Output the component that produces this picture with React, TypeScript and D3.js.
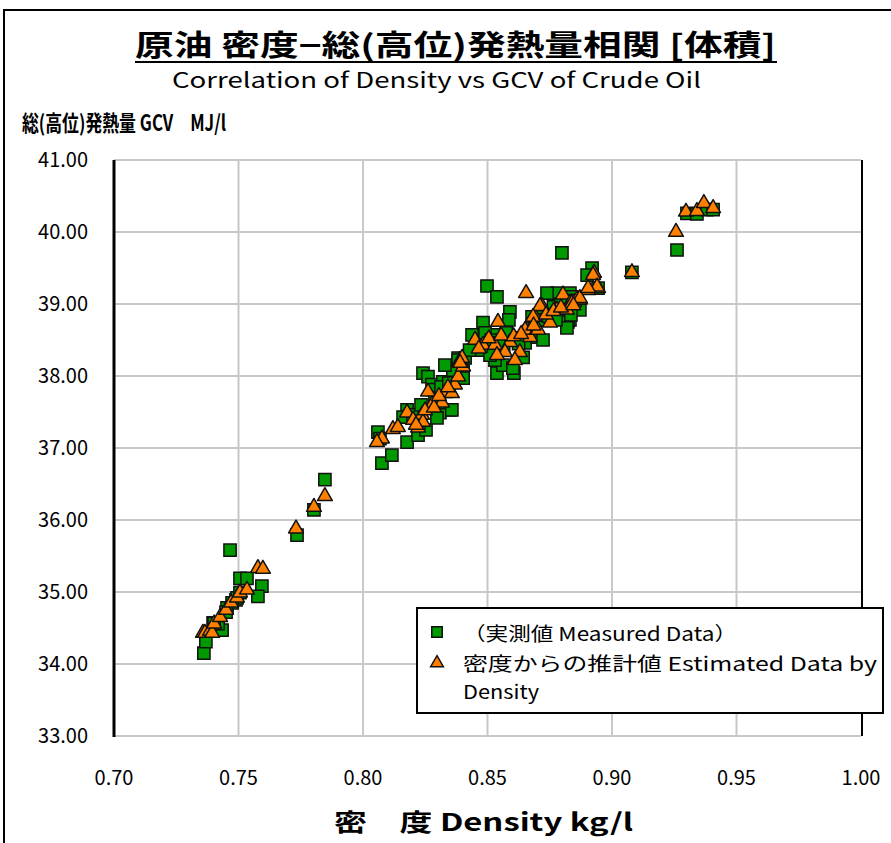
import React, { useRef, useEffect } from "react";
import * as d3 from "d3";

// Measured data (density kg/l, GCV MJ/l)
const measuredDensity = [
  0.7361, 0.7369, 0.7398, 0.7434, 0.7418, 0.7454, 0.7466, 0.749, 0.7494, 0.7506, 0.7534, 0.7506, 0.7594, 0.7578,
  0.7474, 0.745, 0.7402,
  0.7735, 0.7803, 0.7847,
  0.806, 0.8068, 0.8076, 0.8116, 0.8177, 0.8221, 0.8177, 0.8161,
  0.8241, 0.8261, 0.8277, 0.8281, 0.8349, 0.8309, 0.8297, 0.8357,
  0.8321, 0.8361, 0.8402, 0.8402, 0.8382, 0.841,
  0.8538, 0.8606, 0.8562, 0.8329, 0.8382, 0.853, 0.8602, 0.8643, 0.8618, 0.8651, 0.8699, 0.8679, 0.8691,
  0.8498, 0.8538, 0.859, 0.8586, 0.8482, 0.8438, 0.853, 0.8558,
  0.8799, 0.892, 0.89, 0.8944, 0.8779, 0.8739, 0.8831, 0.8839, 0.8871, 0.8831, 0.8723, 0.8823, 0.8819, 0.8723,
  0.8462, 0.851, 0.8565, 0.849,
  0.8201, 0.8233, 0.8289, 0.8313, 0.8345, 0.8305, 0.8253, 0.8225, 0.8475, 0.8515, 0.8545, 0.8575,
  0.8625, 0.8665, 0.8705, 0.8745, 0.8765, 0.8795, 0.8852, 0.8428, 0.8835, 0.8775,
  0.908, 0.9261, 0.9301, 0.9341, 0.9382, 0.9406,
];
const measuredGcv = [
  34.15, 34.31, 34.57, 34.47, 34.56, 34.78, 35.58, 34.89, 34.92, 35.19, 35.19, 34.99, 35.08, 34.94,
  34.85, 34.72, 34.56,
  35.79, 36.14, 36.56,
  37.22, 37.13, 36.79, 36.9, 37.08, 37.18, 37.53, 37.43,
  38.04, 37.99, 37.88, 37.81, 37.53, 37.49, 37.42, 37.53,
  37.92, 38.08, 38.11, 37.97, 38.25, 38.25,
  38.04, 38.04, 38.15, 38.15, 38.22, 38.22, 38.11, 38.26, 38.53, 38.46, 38.54, 38.82, 38.74,
  39.25, 39.1, 38.89, 38.78, 38.74, 38.57, 38.57, 38.43,
  39.71, 39.5, 39.4, 39.22, 39.15, 39.15, 39.15, 39.1, 38.92, 38.78, 38.88, 38.75, 38.67, 38.5,
  38.36, 38.29, 38.36, 38.6,
  37.46, 37.6, 37.7, 37.85, 37.9, 37.63, 37.25, 37.35, 38.42, 38.5, 38.46, 38.6,
  38.45, 38.62, 38.78, 38.83, 38.96, 39.0, 39.05, 38.36, 38.85, 38.78,
  39.44, 39.75, 40.26, 40.25, 40.31, 40.31,
];

// Estimated data by density
const estimatedDensity = [
  0.7357, 0.7365, 0.7386, 0.7394, 0.7402, 0.7426, 0.745, 0.747, 0.7494, 0.7506, 0.7534, 0.7578, 0.7598,
  0.7731, 0.7803, 0.7847,
  0.8076, 0.8056, 0.812, 0.814, 0.8177, 0.8201, 0.8221, 0.8237, 0.8261, 0.8277, 0.8317, 0.8329, 0.8357,
  0.8369, 0.8382, 0.839, 0.8241, 0.8402,
  0.8655, 0.8542, 0.845, 0.8482, 0.853, 0.859, 0.857, 0.863, 0.8671, 0.8691, 0.8651, 0.8398, 0.839, 0.861,
  0.8538, 0.8699,
  0.8719, 0.8779, 0.8803, 0.8831, 0.8859, 0.8871, 0.8904, 0.8944, 0.8928, 0.8924, 0.894, 0.8819, 0.8751,
  0.8703, 0.8711, 0.8683, 0.8839, 0.8871, 0.8904,
  0.8213, 0.8249, 0.8285, 0.8305, 0.8341, 0.8465, 0.8505, 0.8555, 0.8605, 0.8635, 0.8685, 0.8735,
  0.8765, 0.8795, 0.8845,
  0.908, 0.9257, 0.9297, 0.9341, 0.9369, 0.9406,
];
const estimatedGcv = [
  34.43, 34.43, 34.46, 34.43, 34.56, 34.65, 34.75, 34.85, 34.92, 34.99, 35.03, 35.33, 35.32,
  35.88, 36.18, 36.33,
  37.13, 37.08, 37.26, 37.29, 37.49, 37.39, 37.28, 37.46, 37.78, 37.6, 37.63, 37.76, 37.76,
  37.88, 37.99, 38.22, 37.36, 38.13,
  39.15, 38.75, 38.5, 38.43, 38.43, 38.47, 38.33, 38.33, 38.54, 38.82, 38.64, 38.25, 38.18, 38.22,
  38.29, 38.64,
  38.97, 38.92, 39.13, 39.01, 39.06, 39.06, 39.19, 39.22, 39.43, 39.4, 39.24, 38.92, 38.74,
  38.64, 38.97, 38.82, 39.01, 39.08, 39.22,
  37.32, 37.52, 37.56, 37.72, 37.84, 38.38, 38.52, 38.56, 38.55, 38.58, 38.7, 38.85,
  38.9, 38.95, 38.98,
  39.44, 40.0, 40.28, 40.29, 40.4, 40.33,
];

const xTicks = [0.7, 0.75, 0.8, 0.85, 0.9, 0.95, 1.0];
const yTicks = [33, 34, 35, 36, 37, 38, 39, 40, 41];

const titleJa = "原油 密度−総(高位)発熱量相関 [体積]";
const titleEn = "Correlation of Density vs GCV of Crude Oil";
const yTitle = "総(高位)発熱量 GCV　MJ/l";
const xTitle = "密　度 Density kg/l";
const legendMeasured = "（実測値 Measured Data）";
const legendEstimated1 = "密度からの推計値 Estimated Data by";
const legendEstimated2 = "Density";

const FONT = "'Noto Sans CJK JP', 'Noto Sans', sans-serif";
const GREEN = "#009900";
const ORANGE = "#ff8000";

function Chart() {
  const svgRef = useRef<SVGSVGElement>(null);

  useEffect(() => {
    const svg = d3.select(svgRef.current);
    svg.selectAll("*").remove();

    const width = 891;
    const height = 843;
    const plot = { left: 114, right: 861, top: 160, bottom: 736 };

    svg.attr("width", width).attr("height", height);

    svg.append("rect").attr("width", width).attr("height", height).attr("fill", "#fff");

    // outer frame
    svg
      .append("rect")
      .attr("x", 4)
      .attr("y", 10)
      .attr("width", 920)
      .attr("height", 900)
      .attr("fill", "none")
      .attr("stroke", "#000")
      .attr("stroke-width", 2);

    const x = d3.scaleLinear().domain([0.7, 1.0]).range([plot.left, plot.right]);
    const y = d3.scaleLinear().domain([33, 41]).range([plot.bottom, plot.top]);

    // grid
    const grid = svg.append("g").attr("stroke", "#c8c8c8").attr("stroke-width", 2);
    grid
      .selectAll("line.h")
      .data(yTicks)
      .join("line")
      .attr("x1", plot.left)
      .attr("x2", plot.right)
      .attr("y1", (d) => y(d))
      .attr("y2", (d) => y(d));
    grid
      .selectAll("line.v")
      .data(xTicks.slice(1, -1))
      .join("line")
      .attr("x1", (d) => x(d))
      .attr("x2", (d) => x(d))
      .attr("y1", plot.top)
      .attr("y2", plot.bottom);

    // axes lines
    svg
      .append("line")
      .attr("x1", plot.left)
      .attr("x2", plot.left)
      .attr("y1", plot.top)
      .attr("y2", plot.bottom + 1)
      .attr("stroke", "#000")
      .attr("stroke-width", 3);
    svg
      .append("line")
      .attr("x1", plot.right + 1)
      .attr("x2", plot.right + 1)
      .attr("y1", plot.top)
      .attr("y2", plot.bottom)
      .attr("stroke", "#000")
      .attr("stroke-width", 2);

    // tick labels
    svg
      .append("g")
      .selectAll("text")
      .data(yTicks)
      .join("text")
      .attr("x", 88)
      .attr("y", (d) => y(d) + 7)
      .attr("text-anchor", "end")
      .attr("font-family", FONT)
      .attr("font-size", 20)
      .text((d) => d3.format(".2f")(d));
    svg
      .append("g")
      .selectAll("text")
      .data(xTicks)
      .join("text")
      .attr("x", (d) => x(d))
      .attr("y", 785)
      .attr("text-anchor", "middle")
      .attr("font-family", FONT)
      .attr("font-size", 20)
      .text((d) => d3.format(".2f")(d));

    // titles
    svg
      .append("text")
      .attr("x", 135)
      .attr("y", 56)
      .attr("font-family", FONT)
      .attr("font-weight", "bold")
      .attr("font-size", 29)
      .attr("textLength", 641)
      .attr("lengthAdjust", "spacingAndGlyphs")
      .text(titleJa);
    svg
      .append("line")
      .attr("x1", 135)
      .attr("x2", 777)
      .attr("y1", 62)
      .attr("y2", 62)
      .attr("stroke", "#000")
      .attr("stroke-width", 2);
    svg
      .append("text")
      .attr("x", 172)
      .attr("y", 88)
      .attr("font-family", FONT)
      .attr("font-size", 21)
      .attr("textLength", 529)
      .attr("lengthAdjust", "spacingAndGlyphs")
      .text(titleEn);
    svg
      .append("text")
      .attr("x", 22)
      .attr("y", 131)
      .attr("font-family", FONT)
      .attr("font-weight", "bold")
      .attr("font-size", 22)
      .attr("textLength", 204)
      .attr("lengthAdjust", "spacingAndGlyphs")
      .text(yTitle);
    svg
      .append("text")
      .attr("x", 334)
      .attr("y", 831)
      .attr("font-family", FONT)
      .attr("font-weight", "bold")
      .attr("font-size", 24)
      .attr("textLength", 299)
      .attr("lengthAdjust", "spacingAndGlyphs")
      .text(xTitle);

    const square = d3.symbol(d3.symbolSquare, 150);
    const triangle = d3.symbol(d3.symbolTriangle, 95);

    // measured
    svg
      .append("g")
      .selectAll("path")
      .data(d3.range(measuredDensity.length))
      .join("path")
      .attr("d", square)
      .attr("transform", (i) => `translate(${x(measuredDensity[i])},${y(measuredGcv[i])})`)
      .attr("fill", GREEN)
      .attr("stroke", "#111")
      .attr("stroke-width", 1.5);

    // estimated
    svg
      .append("g")
      .selectAll("path")
      .data(d3.range(estimatedDensity.length))
      .join("path")
      .attr("d", triangle)
      .attr("transform", (i) => `translate(${x(estimatedDensity[i])},${y(estimatedGcv[i])})`)
      .attr("fill", ORANGE)
      .attr("stroke", "#111")
      .attr("stroke-width", 1.5)
      .attr("stroke-linejoin", "round");

    // legend
    const lg = svg.append("g");
    lg.append("rect")
      .attr("x", 417)
      .attr("y", 608)
      .attr("width", 466)
      .attr("height", 105)
      .attr("fill", "#fff")
      .attr("stroke", "#000")
      .attr("stroke-width", 2);
    lg.append("path")
      .attr("d", d3.symbol(d3.symbolSquare, 110)())
      .attr("transform", "translate(437,632)")
      .attr("fill", GREEN)
      .attr("stroke", "#111")
      .attr("stroke-width", 1.5);
    lg.append("path")
      .attr("d", d3.symbol(d3.symbolTriangle, 70)())
      .attr("transform", "translate(437,663)")
      .attr("fill", ORANGE)
      .attr("stroke", "#111")
      .attr("stroke-width", 1.5);
    const lt = [
      { t: legendMeasured, y: 641, len: 274 },
      { t: legendEstimated1, y: 671, len: 414 },
      { t: legendEstimated2, y: 699, len: 76 },
    ];
    lg.selectAll("text")
      .data(lt)
      .join("text")
      .attr("x", 463)
      .attr("y", (d) => d.y)
      .attr("font-family", FONT)
      .attr("font-size", 19)
      .attr("textLength", (d) => d.len)
      .attr("lengthAdjust", "spacingAndGlyphs")
      .text((d) => d.t);
  }, []);

  return <svg ref={svgRef} style={{ position: "absolute", left: 0, top: 0 }} />;
}

export default function App() {
  return (
    <div>
      <Chart />
    </div>
  );
}
